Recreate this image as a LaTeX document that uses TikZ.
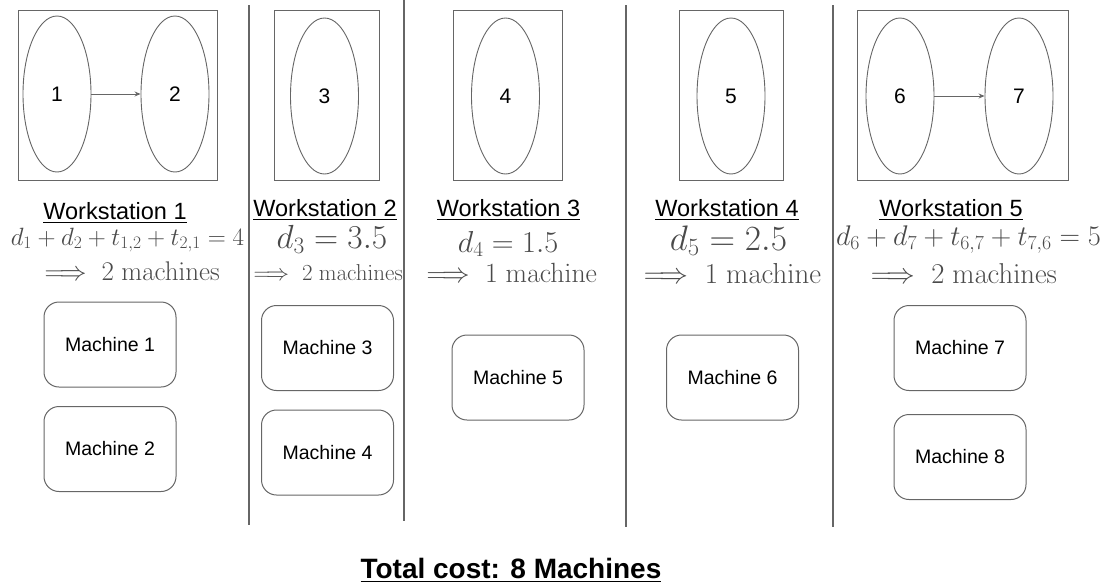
\RequirePackage{fix-cm}
\documentclass[tikz,border=0pt]{standalone}
\usepackage{amsmath}
\usepackage[no-math]{fontspec}
\setmainfont{Liberation Sans}
\usetikzlibrary{shapes.geometric,arrows.meta}
\definecolor{linegray}{HTML}{666666}
\definecolor{mathgray}{HTML}{4A4A4A}
\begin{document}
\begin{tikzpicture}[x=1pt,y=-1pt,
  wsbox/.style={draw=linegray,line width=0.9pt,rectangle,inner sep=0pt},
  task/.style={draw=linegray,line width=0.9pt,ellipse,minimum width=68pt,minimum height=156pt,inner sep=0pt,font=\fontsize{21}{25}\selectfont},
  flow/.style={draw=linegray,line width=0.9pt,-{Stealth[length=6pt,width=5pt]}},
  sep/.style={draw=linegray,line width=1.3pt},
  wslabel/.style={anchor=base,inner sep=0pt,font=\fontsize{23.5}{28}\selectfont},
  eq/.style={anchor=base,inner sep=0pt,text=mathgray},
  machine/.style={draw=linegray,line width=1pt,rectangle,rounded corners=15pt,minimum width=132pt,minimum height=85pt,inner sep=0pt,font=\fontsize{19.5}{23}\selectfont},
  total/.style={anchor=base,inner sep=0pt,font=\fontsize{28}{32}\selectfont\bfseries}]
\useasboundingbox (0,0) rectangle (1107,587);

% separators
\coordinate (s1a) at (249,5);   \coordinate (s1b) at (249,525);
\coordinate (s2a) at (404,0);   \coordinate (s2b) at (404,521);
\coordinate (s3a) at (626,5);   \coordinate (s3b) at (626,527);
\coordinate (s4a) at (833,5);   \coordinate (s4b) at (833,527);
\draw[sep] (s1a) -- (s1b);
\draw[sep] (s2a) -- (s2b);
\draw[sep] (s3a) -- (s3b);
\draw[sep] (s4a) -- (s4b);

% workstation boxes
\node[wsbox,minimum width=199pt,minimum height=170pt] (b1) at (117.5,95) {};
\node[wsbox,minimum width=105pt,minimum height=170pt] (b2) at (326.5,95) {};
\node[wsbox,minimum width=109pt,minimum height=170pt] (b3) at (507.5,95) {};
\node[wsbox,minimum width=104pt,minimum height=170pt] (b4) at (731,95) {};
\node[wsbox,minimum width=211pt,minimum height=170pt] (b5) at (962.5,95) {};

% tasks
\node[task] (t1) at (57,94) {1};
\node[task] (t2) at (175,94) {2};
\node[task] (t3) at (324.5,96) {3};
\node[task] (t4) at (505.5,96) {4};
\node[task] (t5) at (731,96) {5};
\node[task] (t6) at (900,96) {6};
\node[task] (t7) at (1019,96) {7};
\draw[flow] (t1.east) -- (t2.west);
\draw[flow] (t6.east) -- (t7.west);

% labels
\node[wslabel] (w1) at (115,219) {\underline{Workstation 1}};
\node[wslabel] (w2) at (325,216) {\underline{Workstation 2}};
\node[wslabel] (w3) at (508.5,216) {\underline{Workstation 3}};
\node[wslabel] (w4) at (727,216) {\underline{Workstation 4}};
\node[wslabel] (w5) at (951,216) {\underline{Workstation 5}};

% equations
\node[eq,font=\fontsize{25}{29}\selectfont] (e1a) at (127.5,245) {$d_1+d_2+t_{1,2}+t_{2,1}=4$};
\node[eq,font=\fontsize{27}{31}\selectfont] (e1b) at (128.5,280) {$\implies 2\ \mathrm{machines}$};
\node[eq,font=\fontsize{33.4}{38}\selectfont] (e2a) at (332,248) {$d_3=3.5$};
\node[eq,font=\fontsize{23}{27}\selectfont] (e2b) at (325,280) {$\implies 2\ \mathrm{machines}$};
\node[eq,font=\fontsize{30.3}{35}\selectfont] (e3a) at (508,252) {$d_4=1.5$};
\node[eq,font=\fontsize{27.8}{32}\selectfont] (e3b) at (508,282) {$\implies 1\ \mathrm{machine}$};
\node[eq,font=\fontsize{35.4}{40}\selectfont] (e4a) at (728.5,250) {$d_5=2.5$};
\node[eq,font=\fontsize{28.9}{33}\selectfont] (e4b) at (728.5,283) {$\implies 1\ \mathrm{machine}$};
\node[eq,font=\fontsize{28.4}{33}\selectfont] (e5a) at (968.5,245) {$d_6+d_7+t_{6,7}+t_{7,6}=5$};
\node[eq,font=\fontsize{28.7}{33}\selectfont] (e5b) at (960,283) {$\implies 2\ \mathrm{machines}$};

% machines
\node[machine] (m1) at (110,344.5) {Machine 1};
\node[machine] (m2) at (110,449) {Machine 2};
\node[machine] (m3) at (327.5,348) {Machine 3};
\node[machine] (m4) at (327.5,452.5) {Machine 4};
\node[machine] (m5) at (518,377.5) {Machine 5};
\node[machine] (m6) at (732.5,377.5) {Machine 6};
\node[machine] (m7) at (960,348) {Machine 7};
\node[machine] (m8) at (960,457) {Machine 8};

% total
\node[total] (tot) at (511,578) {\underline{Total cost: 8 Machines}};
\end{tikzpicture}
\end{document}
